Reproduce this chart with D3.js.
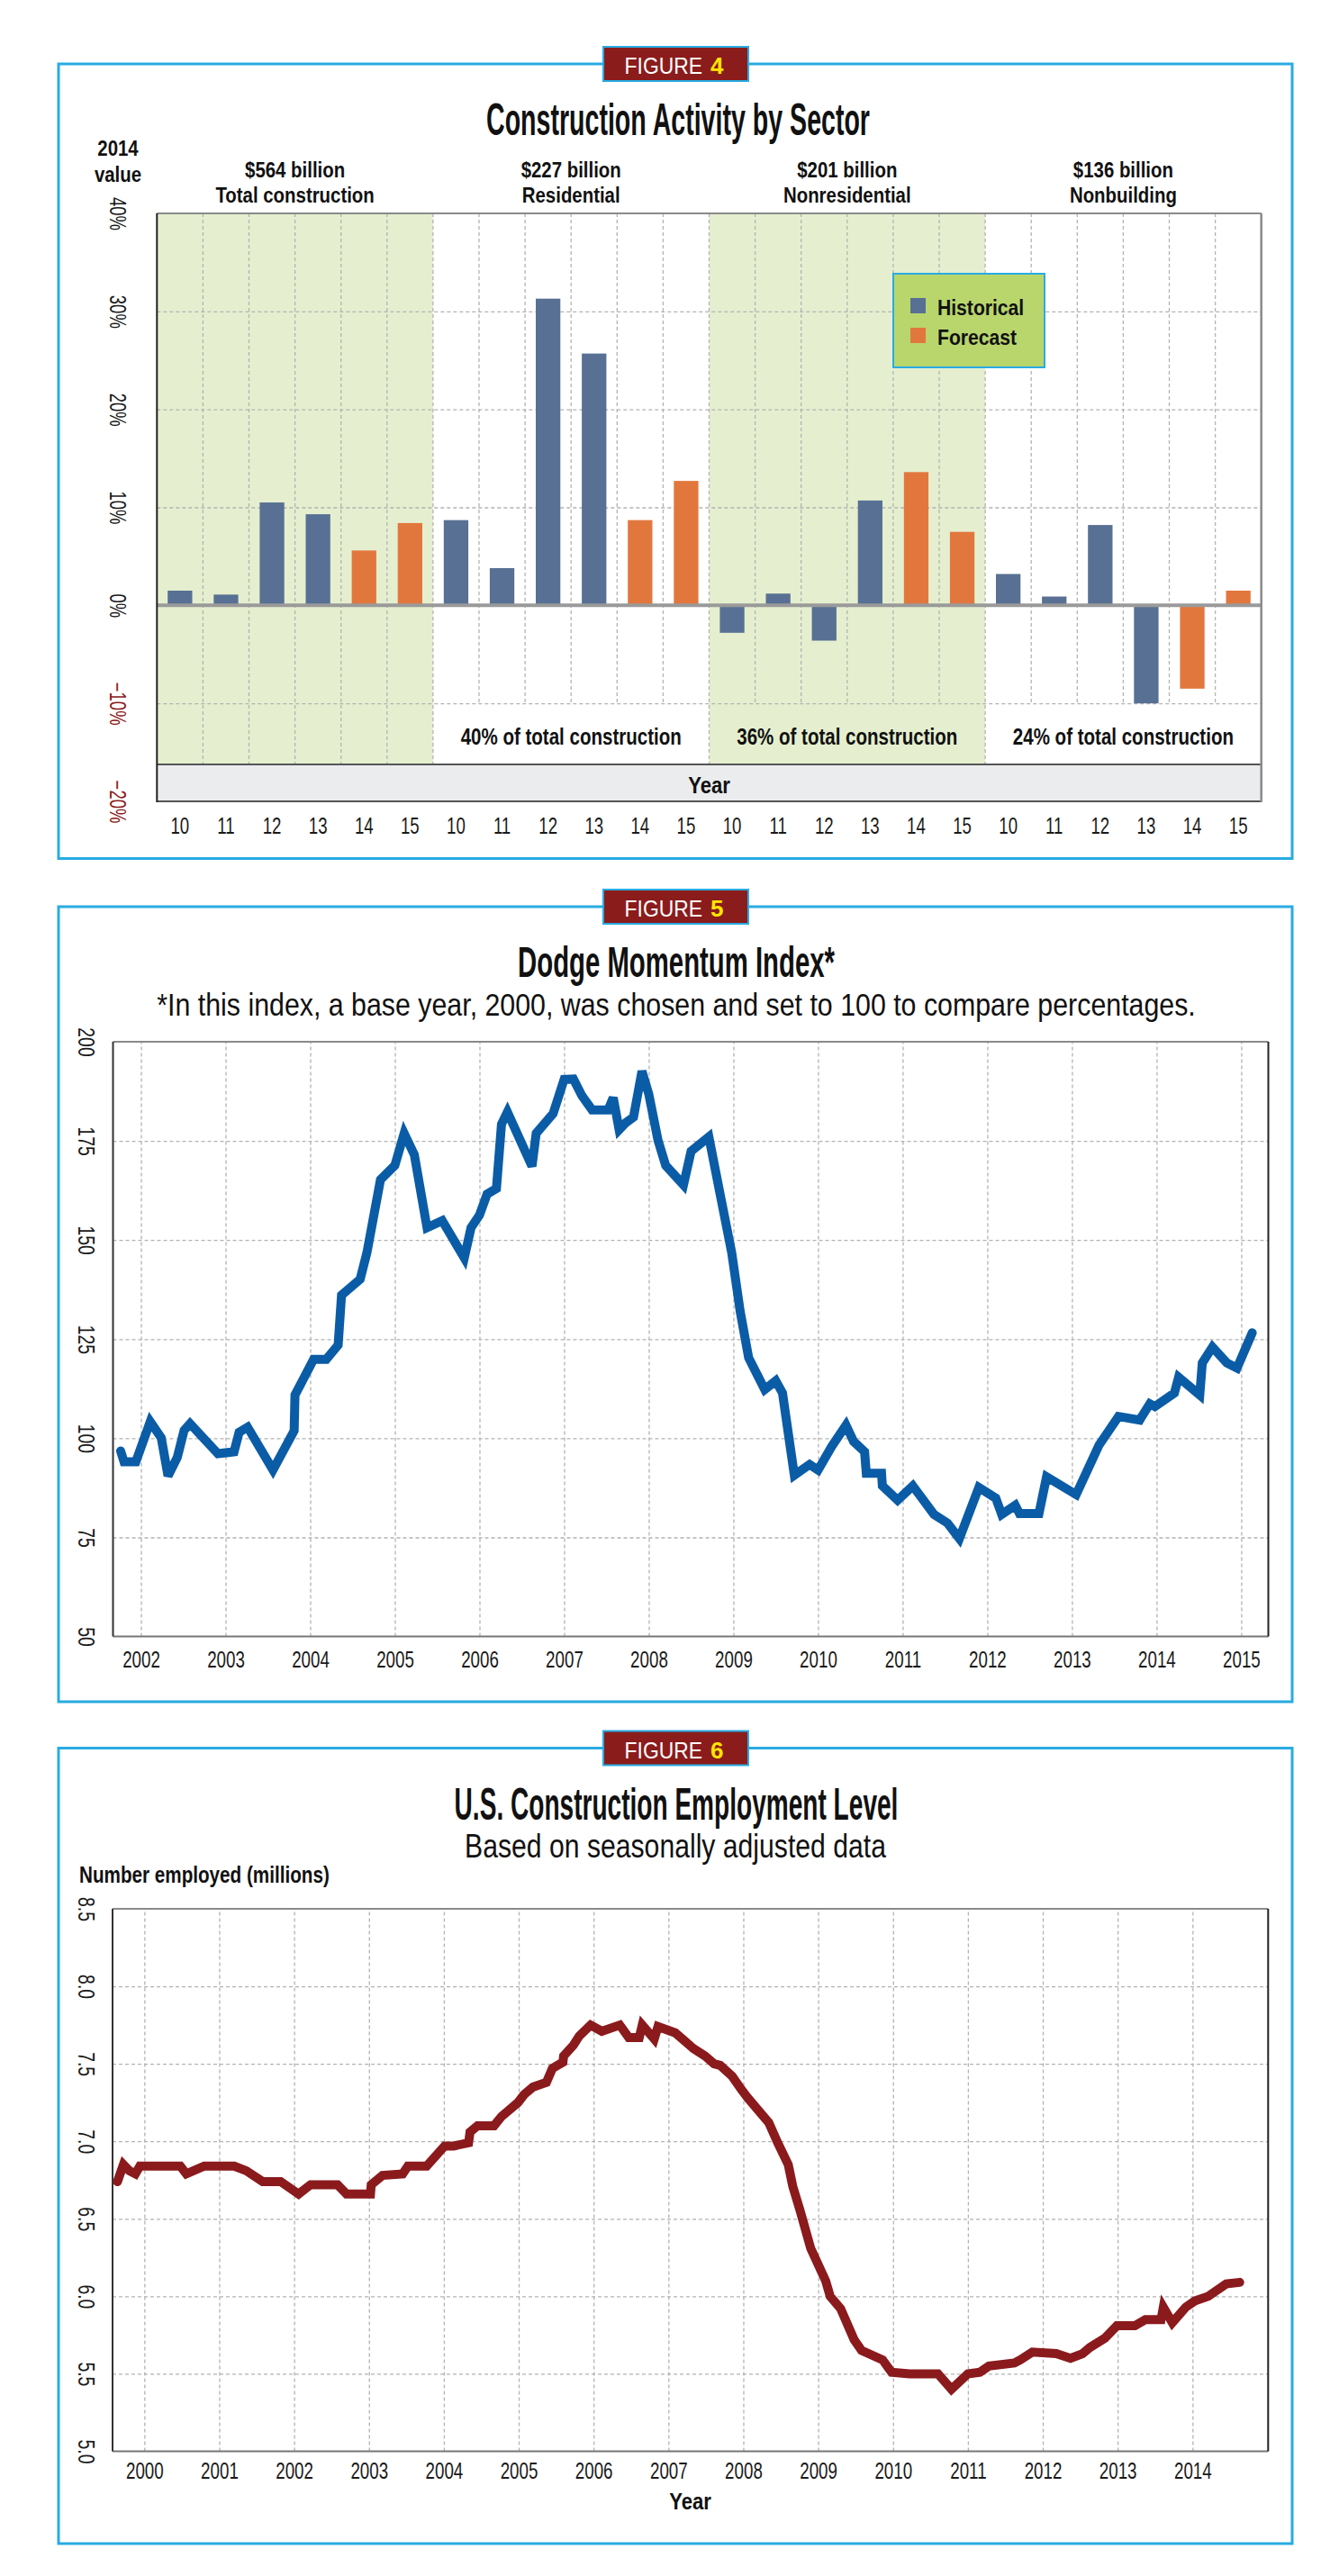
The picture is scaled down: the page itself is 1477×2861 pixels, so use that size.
<!DOCTYPE html>
<html>
<head>
<meta charset="utf-8">
<script src="https://cdn.jsdelivr.net/npm/d3@7"></script>
<style>
  body { margin: 0; background: #fff; }
  .grid line { stroke: #b3b3b3; stroke-width: 1.3; stroke-dasharray: 4,3; }
  .grid path { display: none; }
  .axis path { display: none; }
</style>
</head>
<body>
<svg id="page" width="1477" height="2861"></svg>
<script>

// ---------------- data: figure 4 ----------------
var sectors = ["Total construction", "Residential", "Nonresidential", "Nonbuilding"];
var sectorValues = ["$564 billion", "$227 billion", "$201 billion", "$136 billion"];
var sectorShares = ["", "40% of total construction", "36% of total construction", "24% of total construction"];
var years = ["10", "11", "12", "13", "14", "15"];
var forecastYears = ["14", "15"];
var totalChange = [1.5, 1.1, 10.5, 9.3, 5.6, 8.4];
var residentialChange = [8.7, 3.8, 31.3, 25.7, 8.7, 12.7];
var nonresidentialChange = [-2.8, 1.2, -3.6, 10.7, 13.6, 7.5];
var nonbuildingChange = [3.2, 0.9, 8.2, -10.0, -8.5, 1.5];
var pctTicks = [40, 30, 20, 10, 0, -10, -20];

// ---------------- data: figure 5 (Dodge Momentum Index) ----------------
var dmiDates = [2001.76, 2001.80, 2001.94, 2002.11, 2002.24, 2002.32, 2002.43, 2002.51, 2002.58, 2002.91,
  2003.10, 2003.16, 2003.26, 2003.56, 2003.81, 2003.82, 2004.04, 2004.19, 2004.33, 2004.37,
  2004.59, 2004.67, 2004.83, 2005.00, 2005.11, 2005.23, 2005.38, 2005.56, 2005.82, 2005.90,
  2006.00, 2006.09, 2006.20, 2006.26, 2006.33, 2006.62, 2006.67, 2006.87, 2007.00, 2007.11,
  2007.21, 2007.33, 2007.52, 2007.58, 2007.65, 2007.73, 2007.82, 2007.92, 2008.00, 2008.11,
  2008.20, 2008.41, 2008.50, 2008.71, 2008.85, 2008.98, 2009.08, 2009.18, 2009.37, 2009.50,
  2009.58, 2009.72, 2009.90, 2010.00, 2010.16, 2010.33, 2010.42, 2010.55, 2010.57, 2010.75,
  2010.76, 2010.94, 2011.12, 2011.37, 2011.53, 2011.67, 2011.90, 2012.10, 2012.17, 2012.33,
  2012.38, 2012.61, 2012.70, 2013.05, 2013.32, 2013.55, 2013.80, 2013.92, 2013.98, 2014.21,
  2014.26, 2014.51, 2014.54, 2014.66, 2014.83, 2014.95, 2015.13];
var dmiValues = [96.8, 94.1, 94.1, 104.2, 100.1, 90.5, 95.2, 102.0, 103.7, 96.1,
  96.6, 101.5, 102.8, 92.0, 101.9, 110.9, 119.9, 119.9, 123.5, 136.1,
  140.1, 146.8, 165.2, 168.8, 176.9, 171.5, 153.1, 154.9, 145.5, 153.1,
  156.3, 161.6, 163.0, 179.2, 182.3, 168.6, 176.9, 181.9, 190.5, 190.6,
  186.4, 182.8, 182.8, 185.9, 177.8, 179.6, 181.0, 192.6, 186.8, 175.1,
  168.8, 163.9, 172.4, 176.0, 160.8, 146.8, 132.0, 120.3, 112.3, 114.5,
  111.4, 90.7, 93.4, 92.0, 97.9, 103.3, 99.2, 96.6, 91.2, 91.2,
  88.0, 84.4, 88.0, 80.8, 78.6, 74.7, 87.6, 84.9, 80.8, 83.1,
  81.0, 81.0, 90.3, 85.8, 98.3, 105.5, 104.6, 108.7, 108.0, 111.4,
  115.4, 110.9, 119.0, 123.0, 119.0, 117.7, 126.6];
var dmiTicks = [200, 175, 150, 125, 100, 75, 50];
var dmiYears = [2002, 2003, 2004, 2005, 2006, 2007, 2008, 2009, 2010, 2011, 2012, 2013, 2014, 2015];

// ---------------- data: figure 6 (construction employment, millions) ----------------
var empDates = [1999.64, 1999.72, 1999.80, 1999.88, 1999.94, 2000.48, 2000.56, 2000.80, 2001.20, 2001.36,
  2001.58, 2001.82, 2002.06, 2002.22, 2002.58, 2002.70, 2003.02, 2003.03, 2003.18, 2003.45,
  2003.52, 2003.77, 2004.01, 2004.13, 2004.33, 2004.35, 2004.45, 2004.67, 2004.77, 2004.99,
  2005.07, 2005.19, 2005.37, 2005.45, 2005.59, 2005.60, 2005.73, 2005.81, 2005.96, 2006.11,
  2006.35, 2006.47, 2006.61, 2006.65, 2006.81, 2006.86, 2007.09, 2007.33, 2007.49, 2007.61,
  2007.69, 2007.85, 2007.98, 2008.06, 2008.34, 2008.46, 2008.60, 2008.66, 2008.76, 2008.90,
  2009.10, 2009.16, 2009.30, 2009.48, 2009.58, 2009.86, 2009.98, 2010.22, 2010.60, 2010.78,
  2011.00, 2011.16, 2011.28, 2011.62, 2011.70, 2011.86, 2012.18, 2012.37, 2012.53, 2012.63,
  2012.83, 2012.99, 2013.23, 2013.37, 2013.58, 2013.61, 2013.73, 2013.91, 2014.03, 2014.21,
  2014.45, 2014.63];
var empValues = [6.74, 6.85, 6.81, 6.79, 6.84, 6.84, 6.79, 6.84, 6.84, 6.81,
  6.74, 6.74, 6.66, 6.72, 6.72, 6.66, 6.66, 6.72, 6.78, 6.79,
  6.84, 6.84, 6.97, 6.97, 6.99, 7.06, 7.10, 7.10, 7.16, 7.25,
  7.30, 7.35, 7.38, 7.47, 7.51, 7.55, 7.62, 7.68, 7.75, 7.71,
  7.75, 7.67, 7.67, 7.75, 7.66, 7.74, 7.70, 7.60, 7.55, 7.50,
  7.49, 7.42, 7.33, 7.28, 7.12, 6.99, 6.85, 6.71, 6.55, 6.31,
  6.10, 6.00, 5.92, 5.72, 5.65, 5.59, 5.51, 5.50, 5.50, 5.40,
  5.50, 5.51, 5.55, 5.57, 5.59, 5.64, 5.63, 5.60, 5.63, 5.67,
  5.73, 5.81, 5.81, 5.85, 5.85, 5.93, 5.83, 5.93, 5.97, 6.00,
  6.08, 6.09];
var empTicks = [8.5, 8.0, 7.5, 7.0, 6.5, 6.0, 5.5, 5.0];
var empYears = [2000, 2001, 2002, 2003, 2004, 2005, 2006, 2007, 2008, 2009, 2010, 2011, 2012, 2013, 2014];

// ---------------- helpers ----------------
var FONT = "'Liberation Sans', Arial, Helvetica, sans-serif";
var CYAN = "#29abe2";
var svg = d3.select("#page");

// text squeezed horizontally (scaleX) to look like the condensed face of the original
function label(g, str, o) {
  var t = g.append("text").text(str)
    .attr("x", 0).attr("y", 0)
    .attr("font-family", FONT)
    .attr("font-size", o.size)
    .attr("font-weight", o.bold ? "bold" : "normal")
    .attr("fill", o.fill || "#111")
    .attr("text-anchor", o.anchor || "middle");
  var natural = t.node().getComputedTextLength();
  var s = o.width ? o.width / natural : (o.squeeze || 1);
  t.attr("transform", "translate(" + o.x + "," + o.y + ") scale(" + s + ",1)");
  return t;
}

function squeezeTicks(sel, size, squeeze) {
  sel.selectAll("text")
    .attr("font-family", FONT)
    .attr("font-size", size)
    .attr("fill", "#1a1a1a")
    .each(function() {
      var w = this.getComputedTextLength() * squeeze;
      d3.select(this).attr("textLength", w).attr("lengthAdjust", "spacingAndGlyphs");
    });
}

// rotated (top-to-bottom) labels of the left axis
function rotateLeftTicks(axisG, left, baseX) {
  axisG.selectAll(".tick text")
    .attr("x", baseX - left).attr("y", 0).attr("dy", 0)
    .attr("text-anchor", "middle")
    .attr("transform", "rotate(90," + (baseX - left) + ",0)");
}

function frame(top, bottom, num) {
  var g = svg.append("g");
  g.append("rect").attr("x", 65).attr("y", top).attr("width", 1370).attr("height", bottom - top)
    .attr("fill", "none").attr("stroke", CYAN).attr("stroke-width", 3);
  var cx = 750.5;
  g.append("rect").attr("x", cx - 80.5).attr("y", top - 19).attr("width", 161).attr("height", 38)
    .attr("fill", "#8b1c1c").attr("stroke", CYAN).attr("stroke-width", 2);
  label(g, "FIGURE", {x: cx + 29.5, y: top + 11, size: 26, anchor: "end", fill: "#fff", squeeze: 0.88});
  label(g, num, {x: cx + 38.5, y: top + 11, size: 26, bold: true, anchor: "start", fill: "#ffe600"});
  return g;
}

// ================= FIGURE 4 =================
var f4 = frame(71, 953.5, "4");
label(f4, "Construction Activity by Sector", {x: 753, y: 150, size: 50, bold: true, width: 426});

var keys = [];
var bars = [];
var allChanges = [totalChange, residentialChange, nonresidentialChange, nonbuildingChange];
sectors.forEach(function(s, i) {
  years.forEach(function(yr, j) {
    keys.push(i + "-" + yr);
    bars.push({key: i + "-" + yr, value: allChanges[i][j], forecast: forecastYears.indexOf(yr) >= 0});
  });
});

var x4 = d3.scaleBand().domain(keys).range([174.3, 1400.7]).paddingInner(0.466).paddingOuter(0.233);
var y4 = d3.scaleLinear().domain([-20, 40]).range([890, 237]);
var step4 = x4.step();
var left4 = x4.range()[0], right4 = x4.range()[1];
var bandTop = y4(-20) - 41;
function colEdge(k) { return left4 + k * step4; }

// shaded sectors
[0, 2].forEach(function(i) {
  f4.append("rect").attr("x", colEdge(i * 6)).attr("y", y4(40))
    .attr("width", step4 * 6).attr("height", bandTop - y4(40))
    .attr("fill", "#e5efcf");
});

// horizontal grid
f4.append("g").attr("class", "grid")
  .attr("transform", "translate(" + left4 + ",0)")
  .call(d3.axisLeft(y4).tickValues([30, 20, 10, -10]).tickSize(-(right4 - left4)).tickFormat(""));

// vertical grid
f4.append("g").selectAll("line")
  .data(d3.range(1, 24))
  .enter().append("line")
  .attr("x1", function(k) { return colEdge(k); })
  .attr("x2", function(k) { return colEdge(k); })
  .attr("y1", y4(40))
  .attr("y2", function(k) { return (k <= 6 || k % 6 === 0) ? bandTop : y4(-10); })
  .attr("stroke", "#b3b3b3").attr("stroke-width", 1.3).attr("stroke-dasharray", "4,3");

// year band
f4.append("rect").attr("x", left4).attr("y", bandTop).attr("width", right4 - left4)
  .attr("height", y4(-20) - bandTop).attr("fill", "#ebecee");
f4.append("line").attr("x1", left4).attr("x2", right4).attr("y1", bandTop).attr("y2", bandTop)
  .attr("stroke", "#555").attr("stroke-width", 2);
f4.append("line").attr("x1", left4).attr("x2", right4).attr("y1", y4(-20)).attr("y2", y4(-20))
  .attr("stroke", "#555").attr("stroke-width", 2);
label(f4, "Year", {x: (left4 + right4) / 2, y: 881, size: 26, bold: true, squeeze: 0.85});

// bars
f4.append("g").selectAll("rect")
  .data(bars)
  .enter().append("rect")
  .attr("x", function(d) { return x4(d.key); })
  .attr("width", x4.bandwidth())
  .attr("y", function(d) { return y4(Math.max(0, d.value)); })
  .attr("height", function(d) { return Math.abs(y4(d.value) - y4(0)); })
  .attr("fill", function(d) { return d.forecast ? "#e2773e" : "#587093"; });

// zero line and plot borders
f4.append("line").attr("x1", left4).attr("x2", right4).attr("y1", y4(0)).attr("y2", y4(0))
  .attr("stroke", "#9a9a9a").attr("stroke-width", 4);
f4.append("line").attr("x1", left4).attr("x2", right4).attr("y1", y4(40)).attr("y2", y4(40))
  .attr("stroke", "#8a8a8a").attr("stroke-width", 2);
f4.append("line").attr("x1", left4).attr("x2", left4).attr("y1", y4(40)).attr("y2", y4(-20) + 1)
  .attr("stroke", "#222").attr("stroke-width", 2);
f4.append("line").attr("x1", right4).attr("x2", right4).attr("y1", y4(40)).attr("y2", y4(-20) + 1)
  .attr("stroke", "#8a8a8a").attr("stroke-width", 2.5);

// x axis labels
var xAxis4 = f4.append("g").attr("class", "axis")
  .attr("transform", "translate(0," + y4(-20) + ")")
  .call(d3.axisBottom(x4).tickSize(0).tickPadding(18)
    .tickFormat(function(d) { return d.split("-")[1]; }));
squeezeTicks(xAxis4, 25, 0.745);

// y axis labels
var yAxis4 = f4.append("g").attr("class", "axis")
  .attr("transform", "translate(" + left4 + ",0)")
  .call(d3.axisLeft(y4).tickValues(pctTicks).tickSize(0)
    .tickFormat(function(d) { return (d < 0 ? "\u2212" : "") + Math.abs(d) + "%"; }));
squeezeTicks(yAxis4, 25, 0.74);
rotateLeftTicks(yAxis4, left4, 122);
yAxis4.selectAll(".tick text").attr("fill", function(d) { return d < 0 ? "#8b1a1a" : "#1a1a1a"; });

// headers
label(f4, "2014", {x: 131, y: 173, size: 24, bold: true, squeeze: 0.85});
label(f4, "value", {x: 131, y: 202, size: 24, bold: true, squeeze: 0.85});
sectors.forEach(function(s, i) {
  var cx = colEdge(i * 6 + 3);
  label(f4, sectorValues[i], {x: cx, y: 197, size: 24, bold: true, squeeze: 0.85});
  label(f4, s, {x: cx, y: 225, size: 24, bold: true, squeeze: 0.85});
  if (sectorShares[i]) label(f4, sectorShares[i], {x: cx, y: 827, size: 26, bold: true, squeeze: 0.79});
});

// legend
var lg = f4.append("g");
lg.append("rect").attr("x", 992).attr("y", 304).attr("width", 168).attr("height", 104)
  .attr("fill", "#b9d66c").attr("stroke", CYAN).attr("stroke-width", 2);
[["Historical", "#587093"], ["Forecast", "#e2773e"]].forEach(function(e, i) {
  lg.append("rect").attr("x", 1011).attr("y", 331 + i * 33).attr("width", 17).attr("height", 17).attr("fill", e[1]);
  label(lg, e[0], {x: 1041, y: 350 + i * 33, size: 24, bold: true, anchor: "start", squeeze: 0.88});
});

// ================= FIGURE 5 =================
var f5 = frame(1007, 1890, "5");
label(f5, "Dodge Momentum Index*", {x: 751, y: 1085, size: 48, bold: true, width: 352});
label(f5, "*In this index, a base year, 2000, was chosen and set to 100 to compare percentages.",
  {x: 751, y: 1128, size: 36, width: 1154});

var x5 = d3.scaleLinear().domain([2001.67, 2015.32]).range([125.5, 1408.5]);
var y5 = d3.scaleLinear().domain([50, 200]).range([1817.6, 1157]);

function linePanel(g, x, y, xTicks, yTicks, opts) {
  var l = x.range()[0], r = x.range()[1], b = y.range()[0], t = y.range()[1];
  g.append("g").attr("class", "grid").attr("transform", "translate(0," + b + ")")
    .call(d3.axisBottom(x).tickValues(xTicks).tickSize(-(b - t)).tickFormat(""));
  g.append("g").attr("class", "grid").attr("transform", "translate(" + l + ",0)")
    .call(d3.axisLeft(y).tickValues(yTicks.slice(1, -1)).tickSize(-(r - l)).tickFormat(""));
  g.append("line").attr("x1", l).attr("x2", r).attr("y1", t).attr("y2", t).attr("stroke", "#8a8a8a").attr("stroke-width", 2);
  g.append("line").attr("x1", l).attr("x2", r).attr("y1", b).attr("y2", b).attr("stroke", "#777").attr("stroke-width", 2);
  g.append("line").attr("x1", l).attr("x2", l).attr("y1", t).attr("y2", b).attr("stroke", "#333").attr("stroke-width", 2);
  g.append("line").attr("x1", r).attr("x2", r).attr("y1", t).attr("y2", b).attr("stroke", "#222").attr("stroke-width", 2);

  var xa = g.append("g").attr("class", "axis").attr("transform", "translate(0," + b + ")")
    .call(d3.axisBottom(x).tickValues(xTicks).tickSize(0).tickPadding(opts.xPad).tickFormat(d3.format("d")));
  squeezeTicks(xa, 25, 0.75);
  var ya = g.append("g").attr("class", "axis").attr("transform", "translate(" + l + ",0)")
    .call(d3.axisLeft(y).tickValues(yTicks).tickSize(0).tickFormat(opts.yFormat));
  squeezeTicks(ya, 25.5, 0.76);
  rotateLeftTicks(ya, l, 87);

  g.append("path")
    .datum(d3.zip(opts.dates, opts.values))
    .attr("fill", "none")
    .attr("stroke", opts.color)
    .attr("stroke-width", 10)
    .attr("stroke-linejoin", "miter")
    .attr("stroke-miterlimit", 3)
    .attr("stroke-linecap", "round")
    .attr("d", d3.line().x(function(d) { return x(d[0]); }).y(function(d) { return y(d[1]); }));
}

linePanel(f5, x5, y5, dmiYears, dmiTicks, {
  xPad: 16.5, yFormat: d3.format("d"), dates: dmiDates, values: dmiValues, color: "#0b5ca6"
});

// ================= FIGURE 6 =================
var f6 = frame(1941.5, 2825, "6");
label(f6, "U.S. Construction Employment Level", {x: 751, y: 2021, size: 50, bold: true, width: 493});
label(f6, "Based on seasonally adjusted data", {x: 750, y: 2063, size: 37, width: 468});
label(f6, "Number employed (millions)", {x: 88, y: 2091, size: 26, bold: true, anchor: "start", width: 278});

var x6 = d3.scaleLinear().domain([1999.575, 2015.01]).range([125, 1408.3]);
var y6 = d3.scaleLinear().domain([5, 8.5]).range([2722.5, 2120]);

linePanel(f6, x6, y6, empYears, empTicks, {
  xPad: 12.5, yFormat: d3.format(".1f"), dates: empDates, values: empValues, color: "#8b1a1d"
});
label(f6, "Year", {x: 766.5, y: 2787, size: 26, bold: true, squeeze: 0.85});

</script>
</body>
</html>
